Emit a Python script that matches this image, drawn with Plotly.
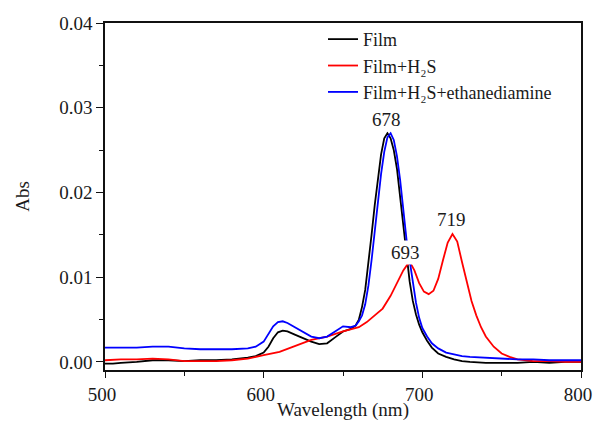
import plotly.graph_objects as go

# ---- data ----
film_wl = [500, 505, 510, 520, 530, 540, 550, 560, 570, 580, 590, 595, 600, 603, 606, 609, 612, 615, 620, 625, 630, 635, 640, 645, 650, 655, 658, 660, 662, 664, 666, 668, 670, 672, 674, 676, 678, 680, 682, 684, 686, 688, 690, 692, 694, 696, 698, 700, 703, 706, 710, 715, 720, 725, 730, 740, 750, 760, 770, 780, 790, 800]
film_abs = [-0.0002, -0.0002, -0.0001, 0.0000, 0.0002, 0.0002, 0.0001, 0.0002, 0.0002, 0.0003, 0.0005, 0.0007, 0.0011, 0.0018, 0.0028, 0.0035, 0.0037, 0.0036, 0.0032, 0.0028, 0.0024, 0.0021, 0.0022, 0.0029, 0.0036, 0.0039, 0.0043, 0.0050, 0.0065, 0.0085, 0.0115, 0.0150, 0.0185, 0.0218, 0.0245, 0.0264, 0.0270, 0.0264, 0.0250, 0.0228, 0.0195, 0.0160, 0.0125, 0.0095, 0.0072, 0.0056, 0.0044, 0.0035, 0.0025, 0.0017, 0.0010, 0.0006, 0.0003, 0.0001, 0.0000, -0.0001, -0.0001, -0.0001, 0.0000, -0.0001, 0.0000, 0.0000]

h2s_wl = [500, 510, 520, 530, 540, 550, 560, 570, 580, 590, 600, 610, 620, 630, 640, 650, 660, 665, 670, 675, 680, 685, 688, 691, 693, 695, 698, 701, 704, 707, 710, 713, 716, 719, 722, 725, 728, 731, 734, 737, 740, 745, 750, 755, 760, 770, 780, 790, 800]
h2s_abs = [0.0002, 0.0003, 0.0003, 0.0004, 0.0003, 0.0001, 0.0001, 0.0001, 0.0002, 0.0004, 0.0008, 0.0012, 0.0019, 0.0026, 0.0030, 0.0036, 0.0041, 0.0047, 0.0055, 0.0063, 0.0078, 0.0098, 0.0108, 0.0116, 0.0115, 0.0108, 0.0093, 0.0083, 0.0080, 0.0084, 0.0098, 0.0120, 0.0141, 0.0151, 0.0142, 0.0118, 0.0094, 0.0072, 0.0055, 0.0041, 0.0030, 0.0018, 0.0010, 0.0006, 0.0003, 0.0001, 0.0001, 0.0000, 0.0000]

eda_wl = [500, 510, 520, 530, 540, 550, 560, 570, 580, 590, 595, 600, 603, 606, 609, 612, 615, 620, 625, 630, 635, 640, 645, 650, 655, 658, 660, 662, 664, 666, 668, 670, 672, 674, 676, 678, 680, 682, 684, 686, 688, 690, 692, 694, 696, 698, 700, 703, 706, 710, 715, 720, 725, 730, 740, 750, 760, 770, 780, 790, 800]
eda_abs = [0.0017, 0.0017, 0.0017, 0.0018, 0.0018, 0.0016, 0.0015, 0.0015, 0.0015, 0.0016, 0.0018, 0.0024, 0.0033, 0.0042, 0.0047, 0.0048, 0.0046, 0.0041, 0.0035, 0.0030, 0.0028, 0.0030, 0.0036, 0.0042, 0.0041, 0.0043, 0.0048, 0.0055, 0.0068, 0.0090, 0.0120, 0.0155, 0.0190, 0.0222, 0.0248, 0.0265, 0.0270, 0.0262, 0.0243, 0.0215, 0.0180, 0.0145, 0.0120, 0.0095, 0.0070, 0.0052, 0.0040, 0.0030, 0.0022, 0.0016, 0.0011, 0.0009, 0.0007, 0.0006, 0.0005, 0.0004, 0.0003, 0.0003, 0.0002, 0.0002, 0.0002]

peak_labels = ["678", "693", "719"]
peak_x = [677.5, 689.7, 718.4]
peak_y = [0.0286, 0.0129, 0.0168]

x_ticks = [500, 600, 700, 800]
y_ticks = [0.00, 0.01, 0.02, 0.03, 0.04]

FONT = "Liberation Serif"
FS = 19
TXT = "#1a1a1a"

fig = go.Figure()
fig.add_trace(go.Scatter(x=film_wl, y=film_abs, mode="lines", name="Film",
                         line=dict(color="black", width=1.8)))
fig.add_trace(go.Scatter(x=h2s_wl, y=h2s_abs, mode="lines", name="Film+H\u2082S",
                         line=dict(color="#ff0000", width=1.8)))
fig.add_trace(go.Scatter(x=eda_wl, y=eda_abs, mode="lines", name="Film+H\u2082S+ethanediamine",
                         line=dict(color="#0000ff", width=1.8)))

for t, xx, yy in zip(peak_labels, peak_x, peak_y):
    fig.add_annotation(x=xx, y=yy, text=t, showarrow=False, bgcolor="white",
                       font=dict(family=FONT, size=FS, color=TXT), borderpad=1)

fig.update_layout(
    width=593, height=421,
    margin=dict(l=105, r=12, t=23, b=51),
    paper_bgcolor="white", plot_bgcolor="white",
    font=dict(family=FONT, size=FS, color=TXT),
    showlegend=True,
    legend=dict(x=0.458, y=1.006, xanchor="left", yanchor="top",
                bgcolor="rgba(0,0,0,0)", borderwidth=0,
                font=dict(family=FONT, size=18, color=TXT),
                tracegroupgap=0),
)
fig.update_xaxes(range=[500, 800], tickvals=x_ticks, ticktext=[str(v) for v in x_ticks],
                 automargin=False, tickfont=dict(family=FONT, size=FS, color=TXT),
                 ticklabeloverflow="allow", ticklabelshift=-3,
                 showgrid=False, zeroline=False, showline=True, linecolor="#111", linewidth=1.5,
                 mirror=True, ticks="outside", ticklen=6, tickwidth=1.2, tickcolor="#111",
                 minor=dict(dtick=50, tick0=500, ticks="outside", ticklen=4, tickcolor="#111", tickwidth=1.2),
                 title=dict(text="Wavelength (nm)", font=dict(family=FONT, size=FS, color=TXT), standoff=6))
fig.update_yaxes(range=[-0.00095, 0.04], tickvals=y_ticks, ticktext=["%.2f" % v for v in y_ticks],
                 automargin=False, tickfont=dict(family=FONT, size=FS, color=TXT),
                 showgrid=False, zeroline=False, showline=True, linecolor="#111", linewidth=1.5,
                 mirror=True, ticks="outside", ticklen=7, tickwidth=1.2, tickcolor="#111",
                 minor=dict(dtick=0.005, tick0=0, ticks="outside", ticklen=4, tickcolor="#111", tickwidth=1.2),
                 title=dict(text="Abs", font=dict(family=FONT, size=FS, color=TXT), standoff=25))

# remove the page's default body margin so the figure fills the window exactly
fig.write_html("out.html", config={"displayModeBar": False},
               post_script="document.body.style.margin='0px';document.body.style.overflow='hidden';")
